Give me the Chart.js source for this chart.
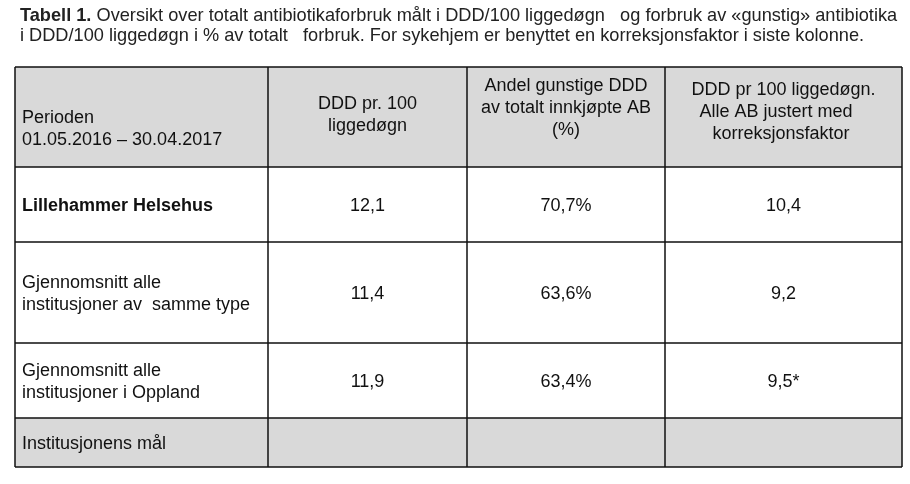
<!DOCTYPE html>
<html>
<head>
<meta charset="utf-8">
<script src="https://cdn.jsdelivr.net/npm/chart.js@4"></script>
<style>
    body { margin: 0; background: #fff; }
    canvas { display: block; }
</style>
</head>
<body>
<canvas id="tabell" width="910" height="484"></canvas>
<script>
/* global Chart */

// table content
const titleBold = "Tabell 1.";
const titleLines = [
    " Oversikt over totalt antibiotikaforbruk målt i DDD/100 liggedøgn   og forbruk av «gunstig» antibiotika",
    "i DDD/100 liggedøgn i % av totalt   forbruk. For sykehjem er benyttet en korreksjonsfaktor i siste kolonne.",
];
const periodHeader = ["Perioden", "01.05.2016 – 30.04.2017"];
const columnHeaders = [
    ["DDD pr. 100", "liggedøgn"],
    ["Andel gunstige DDD", "av totalt innkjøpte AB", "(%)"],
    ["DDD pr 100 liggedøgn.", "Alle AB justert med   ", "korreksjonsfaktor "],
];
const rowLabels = [
    ["Lillehammer Helsehus"],
    ["Gjennomsnitt alle", "institusjoner av  samme type"],
    ["Gjennomsnitt alle", "institusjoner i Oppland"],
    ["Institusjonens mål"],
];
const boldRows = [true, false, false, false];
const dddPer100 = [12.1, 11.4, 11.9, null];
const gunstigShare = [70.7, 63.6, 63.4, null];
const dddAdjusted = [10.4, 9.2, 9.5, null];
const adjustedNotes = ["", "", "*", ""];

// layout (sizes in table units, 1 unit = 1px)
const colWidths = [253, 199, 198, 237];
const rowHeights = [100, 75, 101, 75, 49];
const headerShift = [10, -4, -11, -7];
const shadedRows = [0, 4];
const FONT = '"Liberation Sans", Arial, sans-serif';
const LINE_H = 22;

const fmt = (v, suffix) => v === null ? "" : v.toFixed(1).replace(".", ",") + (suffix || "");

function cumulative(arr) {
    const out = [0];
    arr.forEach(w => out.push(out[out.length - 1] + w));
    return out;
}
const colEdges = cumulative(colWidths);
const rowEdges = cumulative(rowHeights);

// rows of cells, built from the arrays above
const cells = [[periodHeader].concat(columnHeaders)];
rowLabels.forEach((label, i) => {
    cells.push([
        label,
        [fmt(dddPer100[i])],
        [fmt(gunstigShare[i], "%")],
        [fmt(dddAdjusted[i], adjustedNotes[i])],
    ]);
});

const tablePlugin = {
    id: "tablePlugin",
    afterDraw(chart) {
        const ctx = chart.ctx;
        const x = chart.scales.x;
        const y = chart.scales.y;
        const px = v => x.getPixelForValue(v);
        const py = v => y.getPixelForValue(v);

        ctx.save();

        // title
        ctx.fillStyle = "#222";
        ctx.textBaseline = "alphabetic";
        ctx.textAlign = "left";
        ctx.font = "bold 18.2px " + FONT;
        ctx.fillText(titleBold, 20, 21);
        const bw = ctx.measureText(titleBold).width;
        ctx.font = "18.2px " + FONT;
        ctx.fillText(titleLines[0], 20 + bw, 21);
        ctx.fillText(titleLines[1], 20, 41);

        // shaded rows
        ctx.fillStyle = "#d9d9d9";
        shadedRows.forEach(r => {
            ctx.fillRect(px(0), py(rowEdges[r]), px(colEdges[colEdges.length - 1]) - px(0),
                py(rowEdges[r + 1]) - py(rowEdges[r]));
        });

        // cell text
        ctx.fillStyle = "#111";
        cells.forEach((row, r) => {
            const cy = (py(rowEdges[r]) + py(rowEdges[r + 1])) / 2;
            row.forEach((lines, c) => {
                const bold = r > 0 && c === 0 && boldRows[r - 1];
                ctx.font = (bold ? "bold " : "") + "18px " + FONT;
                let tx;
                if (c === 0) {
                    ctx.textAlign = "left";
                    tx = px(colEdges[0]) + 7;
                } else {
                    ctx.textAlign = "center";
                    tx = (px(colEdges[c]) + px(colEdges[c + 1])) / 2;
                }
                const shift = r === 0 ? headerShift[c] : 0;
                lines.forEach((t, i) => {
                    const ly = cy + shift + (i - (lines.length - 1) / 2) * LINE_H + 6.5;
                    ctx.fillText(t, tx, ly);
                });
            });
        });

        // grid lines
        ctx.strokeStyle = "#111";
        ctx.lineWidth = 1.5;
        ctx.beginPath();
        rowEdges.forEach(v => {
            ctx.moveTo(px(0), py(v));
            ctx.lineTo(px(colEdges[colEdges.length - 1]), py(v));
        });
        colEdges.forEach(v => {
            ctx.moveTo(px(v), py(0));
            ctx.lineTo(px(v), py(rowEdges[rowEdges.length - 1]));
        });
        ctx.stroke();

        ctx.restore();
    },
};

new Chart(document.getElementById("tabell"), {
    type: "scatter",
    data: { datasets: [] },
    options: {
        responsive: false,
        animation: false,
        devicePixelRatio: 1,
        layout: { padding: { left: 15, top: 67, right: 8, bottom: 17 } },
        plugins: {
            legend: { display: false },
            tooltip: { enabled: false },
            title: { display: false },
        },
        scales: {
            x: { type: "linear", min: 0, max: colEdges[colEdges.length - 1], display: false },
            y: { type: "linear", min: 0, max: rowEdges[rowEdges.length - 1], reverse: true, display: false },
        },
    },
    plugins: [tablePlugin],
});
</script>
</body>
</html>
